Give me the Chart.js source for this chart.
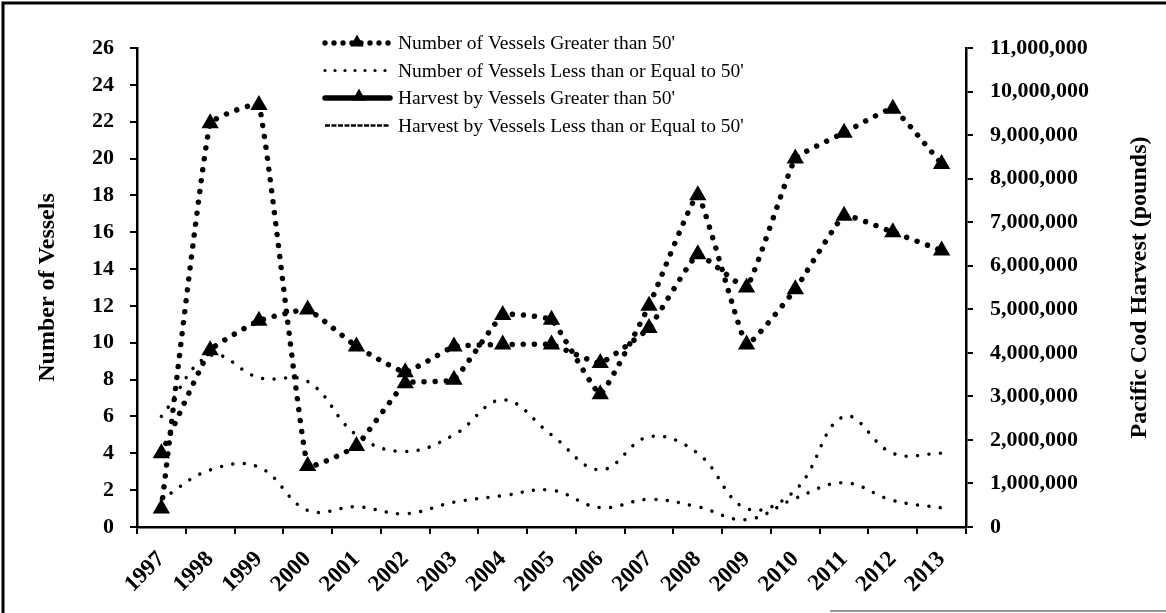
<!DOCTYPE html>
<html>
<head>
<meta charset="utf-8">
<script src="https://cdn.jsdelivr.net/npm/chart.js@4/dist/chart.umd.min.js"></script>
<style>
  html, body { margin: 0; padding: 0; background: #fff; }
  #wrap { width: 1166px; height: 613px; }
</style>
</head>
<body>
<div id="wrap"><canvas id="codChart" width="1166" height="613"></canvas></div>
<script>
const years = ['1997', '1998', '1999', '2000', '2001', '2002', '2003', '2004', '2005',
  '2006', '2007', '2008', '2009', '2010', '2011', '2012', '2013'];

// left axis: number of vessels
const vesselsOver50 = [4, 9.6, 11.2, 11.8, 9.8, 8.4, 9.8, 9.9, 9.9, 8.9, 10.8, 14.8, 13, 20, 21.4, 22.7, 19.7];
const vesselsUnder50 = [6, 9.3, 8.1, 7.9, 5, 4.1, 5, 6.9, 5, 3.1, 4.9, 4, 1, 2, 6, 4, 4];

// right axis: harvest in pounds
const harvestOver50 = [423000, 9270000, 9690000, 1400000, 1860000, 3300000, 3380000, 4870000, 4760000,
  3050000, 5080000, 7620000, 4190000, 5460000, 7150000, 6770000, 6350000];
const harvestUnder50 = [635000, 1310000, 1375000, 381000, 465000, 305000, 571000, 719000, 846000,
  444000, 635000, 465000, 169000, 660000, 1015000, 609000, 440000];

const vesselTicks = [0, 2, 4, 6, 8, 10, 12, 14, 16, 18, 20, 22, 24, 26];
const harvestTicks = [0, 1000000, 2000000, 3000000, 4000000, 5000000, 6000000,
  7000000, 8000000, 9000000, 10000000, 11000000];

const legendItems = [
  "Number of Vessels Greater than 50'",
  "Number of Vessels Less than or Equal to 50'",
  "Harvest by Vessels Greater than 50'",
  "Harvest by Vessels Less than or Equal to 50'"
];

const serif = '"Liberation Serif", "Times New Roman", serif';

function dot(ctx, x, y, r) {
  ctx.beginPath();
  ctx.arc(x, y, r, 0, Math.PI * 2);
  ctx.fill();
}

function tri(ctx, x, y, r) {
  ctx.beginPath();
  ctx.moveTo(x, y - r);
  ctx.lineTo(x + r * 0.9, y + r * 0.6);
  ctx.lineTo(x - r * 0.9, y + r * 0.6);
  ctx.closePath();
  ctx.fill();
}

// frame, axis titles and the legend
const decor = {
  id: 'decor',
  afterDraw(chart) {
    const ctx = chart.ctx;
    const area = chart.chartArea;
    ctx.save();
    ctx.strokeStyle = '#000';
    ctx.fillStyle = '#000';
    ctx.lineWidth = 3;
    ctx.beginPath();
    ctx.moveTo(3, 613);
    ctx.lineTo(3, 3);
    ctx.lineTo(1166, 3);
    ctx.stroke();
    ctx.strokeStyle = '#999';
    ctx.lineWidth = 2;
    ctx.beginPath();
    ctx.moveTo(830, 611);
    ctx.lineTo(1166, 611);
    ctx.stroke();
    ctx.strokeStyle = '#000';

    const midY = (area.top + area.bottom) / 2;
    ctx.font = 'bold 24px ' + serif;
    ctx.textAlign = 'center';
    ctx.textBaseline = 'middle';
    ctx.save();
    ctx.translate(48, midY);
    ctx.rotate(-Math.PI / 2);
    ctx.fillText('Number of Vessels', 0, 0);
    ctx.restore();
    ctx.save();
    ctx.translate(1140, midY);
    ctx.rotate(-Math.PI / 2);
    ctx.fillText('Pacific Cod Harvest (pounds)', 0, 0);
    ctx.restore();

    // legend
    const x0 = 325, x1 = 390, tx = 398;
    const rows = [43, 70.5, 98, 125.5];
    ctx.font = '19.5px ' + serif;
    ctx.textAlign = 'left';
    legendItems.forEach((label, i) => {
      const y = rows[i];
      if (i === 0) {
        for (let x = x0; x <= x1; x += 9) dot(ctx, x, y, 2.7);
        tri(ctx, 357, y - 1, 7.5);
      } else if (i === 1) {
        for (let x = x0; x <= x1; x += 10) dot(ctx, x, y, 1.6);
      } else if (i === 2) {
        ctx.lineWidth = 5.5;
        ctx.lineCap = 'round';
        ctx.beginPath(); ctx.moveTo(x0, y); ctx.lineTo(x1, y); ctx.stroke();
        tri(ctx, 359, y - 2, 7.5);
      } else {
        ctx.lineWidth = 2.5;
        ctx.lineCap = 'butt';
        ctx.setLineDash([5, 1.5]);
        ctx.beginPath(); ctx.moveTo(x0, y); ctx.lineTo(x1, y); ctx.stroke();
        ctx.setLineDash([]);
      }
      ctx.fillText(label, tx, y + 1);
    });
    ctx.restore();
  }
};

const heavy = {
  borderColor: '#000',
  backgroundColor: '#000',
  borderWidth: 5.5,
  borderDash: [0.01, 11],
  borderCapStyle: 'round',
  tension: 0.1,
  pointStyle: 'triangle',
  pointRadius: 10,
  pointBorderWidth: 0,
  pointBackgroundColor: '#000'
};

const light = {
  borderColor: '#000',
  borderWidth: 3.5,
  borderDash: [0.01, 11.5],
  borderCapStyle: 'round',
  tension: 0.4,
  pointRadius: 0
};

const tickFont = { family: serif, size: 22, weight: 'bold' };

new Chart(document.getElementById('codChart'), {
  type: 'line',
  data: {
    labels: years,
    datasets: [
      Object.assign({ label: legendItems[0], data: vesselsOver50, yAxisID: 'yVessels' }, heavy),
      Object.assign({ label: legendItems[1], data: vesselsUnder50, yAxisID: 'yVessels' }, light),
      Object.assign({ label: legendItems[2], data: harvestOver50, yAxisID: 'yHarvest' }, heavy),
      Object.assign({ label: legendItems[3], data: harvestUnder50, yAxisID: 'yHarvest' }, light)
    ]
  },
  options: {
    responsive: false,
    animation: false,
    devicePixelRatio: 1,
    layout: { padding: { top: 48, left: 0, right: 0, bottom: 0 } },
    plugins: {
      legend: { display: false },
      tooltip: { enabled: false }
    },
    scales: {
      x: {
        offset: true,
        grid: { offset: true, drawOnChartArea: false, color: '#000', tickLength: 7, lineWidth: 2 },
        border: { color: '#000', width: 2.5 },
        ticks: {
          color: '#000', font: { family: serif, size: 23, weight: 'bold' },
          minRotation: 45, maxRotation: 45, autoSkip: false, padding: 12
        },
        afterFit(scale) { scale.height = 86; }
      },
      yVessels: {
        position: 'left',
        min: 0, max: 26,
        grid: { drawOnChartArea: false, color: '#000', tickLength: 7, lineWidth: 2 },
        border: { color: '#000', width: 2.5 },
        ticks: { color: '#000', font: tickFont, padding: 16 },
        afterBuildTicks(scale) { scale.ticks = vesselTicks.map(v => ({ value: v })); },
        afterFit(scale) { scale.width = 137; }
      },
      yHarvest: {
        position: 'right',
        min: 0, max: 11000000,
        grid: { drawOnChartArea: false, color: '#000', tickLength: 7, lineWidth: 2 },
        border: { color: '#000', width: 2.5 },
        ticks: {
          color: '#000', font: tickFont, padding: 17,
          callback: v => v.toLocaleString('en-US')
        },
        afterBuildTicks(scale) { scale.ticks = harvestTicks.map(v => ({ value: v })); },
        afterFit(scale) { scale.width = 200; }
      }
    }
  },
  plugins: [decor]
});
</script>
</body>
</html>
